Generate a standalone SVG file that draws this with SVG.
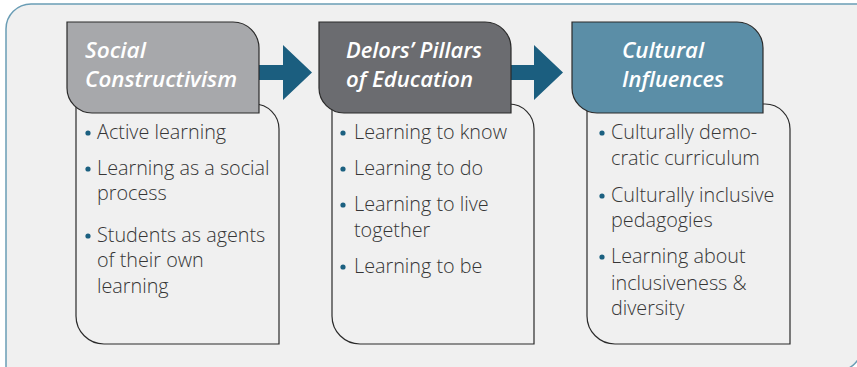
<svg xmlns="http://www.w3.org/2000/svg" width="857" height="367" viewBox="0 0 857 367">
<style>
.frame{fill:#f0f0f0;stroke:#6a9db5;stroke-width:1.5}
.body{fill:#f0f0f0;stroke:#2a2a2a;stroke-width:1.2}
.head{stroke:#2a2a2a;stroke-width:1.2}
.h1{fill:#a7a8ab}.h2{fill:#6b6c70}.h3{fill:#5b8ea7}
.ht{font-family:"Open Sans","Liberation Sans",sans-serif;font-style:italic;font-weight:600;font-size:21px;fill:#ffffff}
.bt{font-family:"Open Sans","Liberation Sans",sans-serif;font-weight:300;font-size:19.8px;fill:#363636}
.dot{fill:#1b6080}
.arrow{fill:#1b5e7f}
</style>
<rect width="857" height="367" fill="#ffffff"/>
<path class="frame" d="M6,380 V29 A25,25 0 0 1 31,4 H862 V346 A25,25 0 0 1 837,371 Z"/>
<g id="connectors">
<polygon class="arrow" points="259,65 283,65 283,45 312,72.5 283,100 283,80 259,80"/>
<polygon class="arrow" points="511,65 534,65 534,45 563,72.5 534,100 534,80 511,80"/>
</g>
<g id="node-social">
<path class="body" d="M76,104 H254 A25,25 0 0 1 279,129 V344 H104 A28,28 0 0 1 76,316 Z"/>
<path class="head h1" d="M67,22 H233 A26,26 0 0 1 259,48 V113 H92 A25,25 0 0 1 67,88 Z"/>
<text class="ht" x="85" y="58" textLength="61" lengthAdjust="spacingAndGlyphs">Social</text>
<text class="ht" x="85" y="87" textLength="152" lengthAdjust="spacingAndGlyphs">Constructivism</text>
<circle class="dot" cx="88" cy="133" r="2.6"/>
<text class="bt" x="97" y="139">Active learning</text>
<circle class="dot" cx="88" cy="169" r="2.6"/>
<text class="bt" x="97" y="175">Learning as a social</text>
<text class="bt" x="97" y="200">process</text>
<circle class="dot" cx="88" cy="236" r="2.6"/>
<text class="bt" x="97" y="242">Students as agents</text>
<text class="bt" x="97" y="267">of their own</text>
<text class="bt" x="97" y="293">learning</text>
</g>
<g id="node-delors">
<path class="body" d="M332,104 H509 A25,25 0 0 1 534,129 V344 H360 A28,28 0 0 1 332,316 Z"/>
<path class="head h2" d="M319,22 H485 A26,26 0 0 1 511,48 V113 H344 A25,25 0 0 1 319,88 Z"/>
<text class="ht" x="346" y="58" textLength="136" lengthAdjust="spacingAndGlyphs">Delors’ Pillars</text>
<text class="ht" x="346" y="87" textLength="127" lengthAdjust="spacingAndGlyphs">of Education</text>
<circle class="dot" cx="343" cy="133" r="2.6"/>
<text class="bt" x="354" y="139">Learning to know</text>
<circle class="dot" cx="343" cy="169" r="2.6"/>
<text class="bt" x="354" y="175">Learning to do</text>
<circle class="dot" cx="343" cy="205" r="2.6"/>
<text class="bt" x="354" y="211">Learning to live</text>
<text class="bt" x="354" y="237">together</text>
<circle class="dot" cx="343" cy="267" r="2.6"/>
<text class="bt" x="354" y="273">Learning to be</text>
</g>
<g id="node-cultural">
<path class="body" d="M587,104 H765 A25,25 0 0 1 790,129 V344 H615 A28,28 0 0 1 587,316 Z"/>
<path class="head h3" d="M572,22 H737 A26,26 0 0 1 763,48 V113 H597 A25,25 0 0 1 572,88 Z"/>
<text class="ht" x="622" y="58" textLength="82" lengthAdjust="spacingAndGlyphs">Cultural</text>
<text class="ht" x="622" y="87" textLength="102" lengthAdjust="spacingAndGlyphs">Influences</text>
<circle class="dot" cx="602" cy="133" r="2.6"/>
<text class="bt" x="611" y="139">Culturally demo-</text>
<text class="bt" x="611" y="165">cratic curriculum</text>
<circle class="dot" cx="602" cy="196" r="2.6"/>
<text class="bt" x="611" y="202">Culturally inclusive</text>
<text class="bt" x="611" y="227">pedagogies</text>
<circle class="dot" cx="602" cy="257" r="2.6"/>
<text class="bt" x="611" y="263">Learning about</text>
<text class="bt" x="611" y="290">inclusiveness &amp;</text>
<text class="bt" x="611" y="315">diversity</text>
</g>
</svg>
